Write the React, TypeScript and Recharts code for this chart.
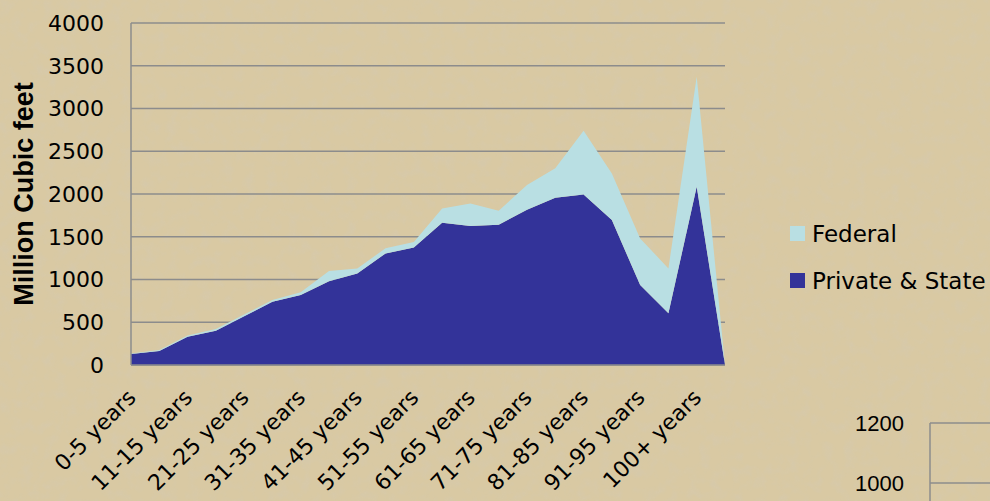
import { AreaChart, Area, XAxis, YAxis, CartesianGrid, Legend, LineChart, Line } from 'recharts';

const ageClasses = [
  '0-5 years', '6-10 years', '11-15 years', '16-20 years', '21-25 years', '26-30 years',
  '31-35 years', '36-40 years', '41-45 years', '46-50 years', '51-55 years', '56-60 years',
  '61-65 years', '66-70 years', '71-75 years', '76-80 years', '81-85 years', '86-90 years',
  '91-95 years', '96-100 years', '100+ years', '',
];
const privateState = [130, 165, 330, 400, 570, 740, 820, 980, 1070, 1305, 1375, 1665, 1625, 1640, 1815, 1955, 1995, 1695, 935, 605, 2085, 0];
const federal = [5, 10, 15, 20, 20, 20, 30, 120, 60, 60, 65, 165, 265, 165, 290, 345, 745, 545, 545, 525, 1285, 0];
const volumeTicks = [0, 500, 1000, 1500, 2000, 2500, 3000, 3500, 4000];

// the next chart on the slide peeks in at the bottom right; only the top of its axis shows
const lowerTicks = [1000, 1200];
const lowerCategories = [''];

const data = ageClasses.map((age, i) => ({ age, privateState: privateState[i], federal: federal[i] }));
const lowerData = lowerCategories.map((k) => ({ k }));

const GRID = '#8c8c8c';
const DARK = '#333399';
const LIGHT = '#b9dfe3';
const FONT = '"DejaVu Sans", Verdana, sans-serif';

const AgeTick = ({ x, y, payload }: any) => (
  <g transform={`translate(${x + 6},${y + 34})`}>
    <text textAnchor="end" transform="rotate(-45)" fontSize={22} fontFamily={FONT} fill="#000">
      {payload.value}
    </text>
  </g>
);

const AxisTitle = ({ viewBox }: any) => {
  const cy = viewBox.y + viewBox.height / 2;
  return (
    <text
      x={33}
      y={cy}
      textAnchor="middle"
      transform={`rotate(-90, 33, ${cy})`}
      fontSize={27}
      fontWeight="bold"
      fontFamily='"Liberation Sans", Arial, sans-serif'
      fill="#000"
    >
      Million Cubic feet
    </text>
  );
};

const LegendBox = ({ payload }: any) => (
  <div style={{ fontFamily: FONT, fontSize: 23, color: '#000' }}>
    {(payload || []).map((p: any) => (
      <div key={p.value} style={{ display: 'flex', alignItems: 'center', height: 47, whiteSpace: 'nowrap' }}>
        <span style={{ width: 15, height: 15, background: p.color, marginRight: 7, display: 'inline-block' }} />
        {p.value}
      </div>
    ))}
  </div>
);

export default function App() {
  return (
    <div
      style={{
        position: 'absolute',
        left: 0,
        top: 0,
        width: 990,
        height: 501,
        overflow: 'hidden',
        background: '#d9c9a3',
      }}
    >
      <svg width={990} height={501} style={{ position: 'absolute', left: 0, top: 0 }}>
        <filter id="paper">
          <feTurbulence type="fractalNoise" baseFrequency="0.09" numOctaves={3} seed={4} />
          <feColorMatrix type="matrix" values="0 0 0 0 0.66  0 0 0 0 0.59  0 0 0 0 0.44  0 0 0 -2.6 1.45" />
        </filter>
        <rect width={990} height={501} filter="url(#paper)" opacity={0.45} />
      </svg>

      <div style={{ position: 'absolute', left: 0, top: 0 }}>
        <AreaChart width={990} height={501} data={data} margin={{ top: 23, right: 265, left: 0, bottom: 0 }}>
          <CartesianGrid stroke={GRID} strokeWidth={1.5} vertical={false} />
          <XAxis
            dataKey="age"
            interval={1}
            height={136}
            tickLine={false}
            tickSize={0}
            tickMargin={0}
            axisLine={{ stroke: GRID, strokeWidth: 1.5 }}
            tick={<AgeTick />}
          />
          <YAxis
            width={131}
            domain={[0, 4000]}
            ticks={volumeTicks}
            tickLine={false}
            tickSize={0}
            tickMargin={27}
            axisLine={{ stroke: GRID, strokeWidth: 1.5 }}
            tick={{ fontSize: 22, fill: '#000', fontFamily: FONT }}
            label={{ content: AxisTitle }}
          />
          <Area
            type="linear"
            dataKey="privateState"
            name="Private & State"
            stackId="vol"
            stroke="none"
            fill={DARK}
            fillOpacity={1}
            isAnimationActive={false}
          />
          <Area
            type="linear"
            dataKey="federal"
            name="Federal"
            stackId="vol"
            stroke="none"
            fill={LIGHT}
            fillOpacity={1}
            isAnimationActive={false}
          />
          <Legend
            layout="horizontal"
            align="center"
            verticalAlign="middle"
            wrapperStyle={{ left: 790, top: 210, width: 200 }}
            content={<LegendBox />}
          />
        </AreaChart>
      </div>

      <div style={{ position: 'absolute', left: 830, top: 400 }}>
        <LineChart width={300} height={420} data={lowerData} margin={{ top: 23, right: 0, left: 0, bottom: 37 }}>
          <CartesianGrid stroke={GRID} strokeWidth={1.5} vertical={false} />
          <XAxis dataKey="k" hide />
          <YAxis
            type="number"
            width={100}
            domain={[0, 1200]}
            ticks={lowerTicks}
            allowDataOverflow
            tickLine={false}
            tickSize={0}
            tickMargin={26}
            axisLine={{ stroke: GRID, strokeWidth: 1.5 }}
            tick={{ fontSize: 22, fill: '#000', fontFamily: '"Liberation Sans", Arial, sans-serif' }}
          />
          <Line dataKey="v" stroke="none" dot={false} isAnimationActive={false} />
        </LineChart>
      </div>
    </div>
  );
}
